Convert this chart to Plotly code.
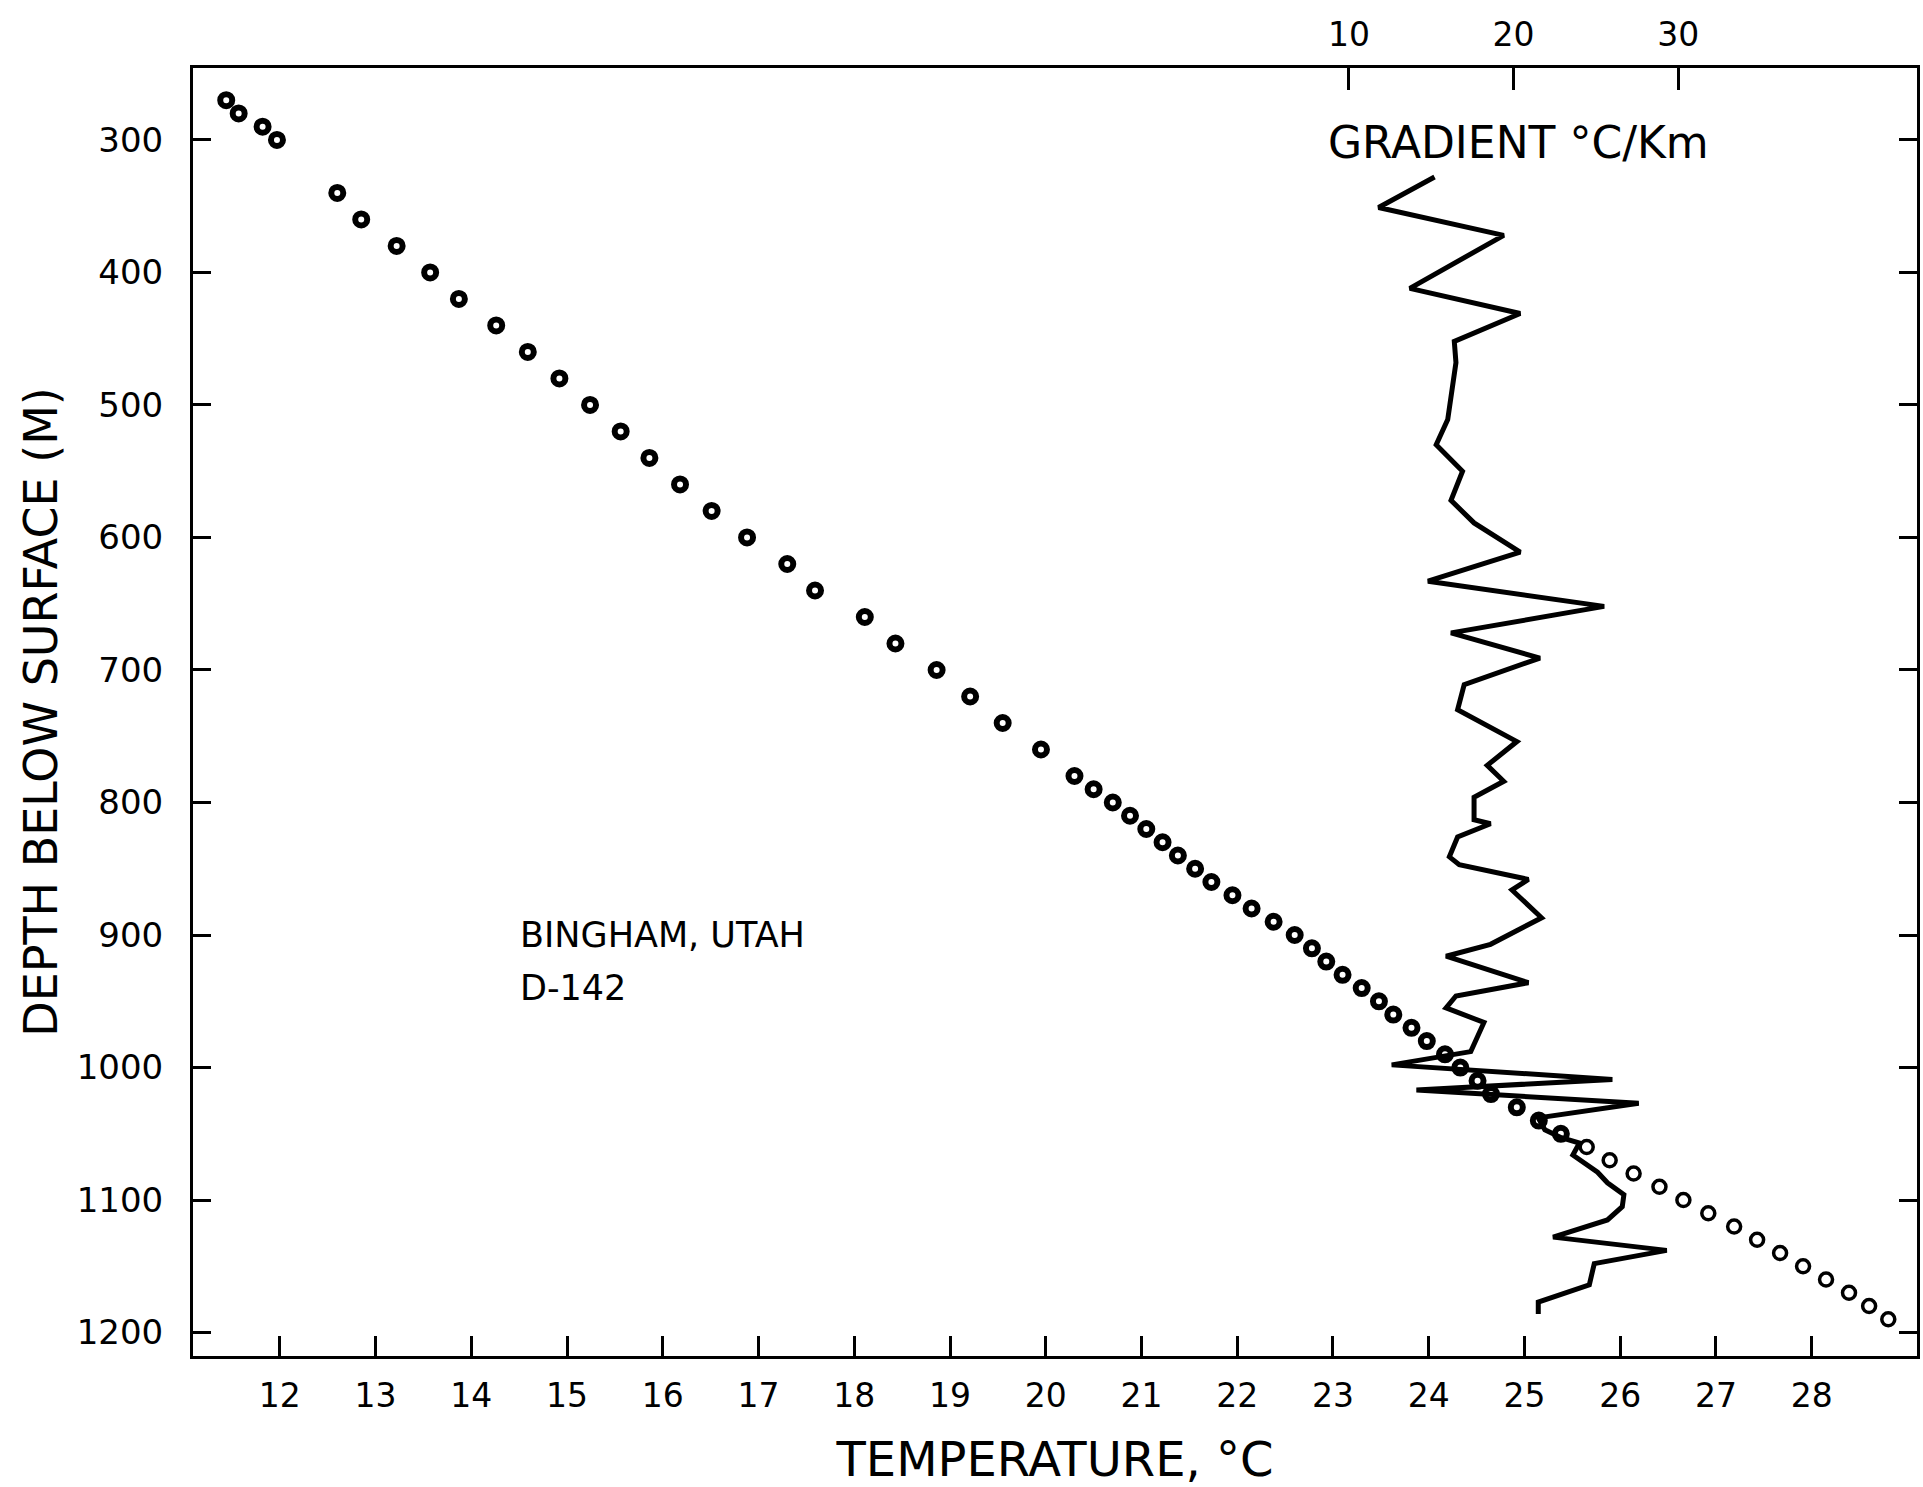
import plotly.graph_objects as go

# ---- Temperature log (depth in m, temperature in deg C) ----
temp_depth = [270, 280, 290, 300,
              340, 360, 380, 400, 420, 440, 460, 480, 500, 520, 540, 560,
              580, 600, 620, 640, 660, 680, 700, 720, 740, 760,
              780, 790, 800, 810, 820, 830, 840, 850, 860, 870,
              880, 890, 900, 910, 920, 930, 940, 950, 960, 970,
              980, 990, 1000, 1010, 1020, 1030, 1040, 1050, 1060, 1070,
              1080, 1090, 1100, 1110, 1120, 1130, 1140, 1150, 1160, 1170,
              1180, 1190]
temp_c = [11.44, 11.57, 11.82, 11.97,
          12.60, 12.85, 13.22, 13.57, 13.87, 14.26, 14.59, 14.92, 15.24, 15.56, 15.86, 16.18,
          16.51, 16.88, 17.30, 17.59, 18.11, 18.43, 18.86, 19.21, 19.55, 19.95,
          20.30, 20.50, 20.70, 20.88, 21.05, 21.22, 21.38, 21.56, 21.73, 21.95,
          22.15, 22.38, 22.60, 22.78, 22.93, 23.10, 23.30, 23.48, 23.63, 23.82,
          23.98, 24.17, 24.33, 24.51, 24.65, 24.92, 25.15, 25.38, 25.65, 25.89,
          26.14, 26.41, 26.66, 26.92, 27.19, 27.43, 27.67, 27.91, 28.15, 28.39,
          28.60, 28.80]

# ---- Gradient log (depth in m, gradient in deg C / km) ----
grad_depth = [328, 351, 372, 412, 431, 452, 468, 511, 530, 550, 572, 589, 611,
              633, 652, 672, 691, 711, 730, 754, 772, 784, 796, 813, 816, 826,
              841, 847, 858, 866, 887, 907, 916, 936, 946, 955, 966, 988, 998,
              1009, 1017, 1027, 1038, 1047, 1053, 1057, 1066, 1079, 1087, 1096,
              1105, 1115, 1128, 1138, 1148, 1164, 1177, 1186]
grad_val = [15.2, 11.8, 19.4, 13.7, 20.4, 16.4, 16.5, 16.0, 15.3, 16.9, 16.2, 17.6, 20.4,
            14.8, 25.5, 16.2, 21.6, 17.0, 16.6, 20.2, 18.4, 19.4, 17.6, 17.6, 18.6, 16.6,
            16.1, 16.7, 20.9, 19.9, 21.7, 18.6, 15.9, 20.9, 16.5, 15.9, 18.2, 17.4, 12.6,
            26.0, 14.1, 27.6, 21.5, 21.9, 22.9, 24.0, 23.6, 25.1, 25.7, 26.7,
            26.6, 25.7, 22.4, 29.3, 24.9, 24.6, 21.5, 21.5]

temp_ticks = [12, 13, 14, 15, 16, 17, 18, 19, 20, 21, 22, 23, 24, 25, 26, 27, 28]
depth_ticks = [300, 400, 500, 600, 700, 800, 900, 1000, 1100, 1200]
grad_ticks = [10, 20, 30]

FONT = "DejaVu Sans"
W, H = 1923, 1487
L, R, T, B = 193, 3, 68, 131
PW, PH = W - L - R, H - T - B


def px_x(p):
    return (p - L) / PW


def px_y(p):
    return 1 - (p - T) / PH


fig = go.Figure()

fig.add_trace(go.Scatter(
    x=grad_val, y=grad_depth, xaxis="x2", yaxis="y", mode="lines",
    line=dict(color="black", width=5), hoverinfo="skip"))

upper = [i for i, d in enumerate(temp_depth) if d < 1055]
lower = [i for i, d in enumerate(temp_depth) if d >= 1055]

fig.add_trace(go.Scatter(
    x=[temp_c[i] for i in upper], y=[temp_depth[i] for i in upper], mode="markers",
    marker=dict(symbol="circle", size=12, color="white",
                line=dict(color="black", width=6))))
fig.add_trace(go.Scatter(
    x=[temp_c[i] for i in lower], y=[temp_depth[i] for i in lower], mode="markers",
    marker=dict(symbol="circle", size=13, color="white",
                line=dict(color="black", width=3.5))))

axis_common = dict(showgrid=False, zeroline=False, color="black",
                   tickcolor="black", tickwidth=3, ticks="inside")

fig.update_layout(
    width=W, height=H,
    margin=dict(l=L, r=R, t=T, b=B, pad=0),
    paper_bgcolor="white", plot_bgcolor="white",
    showlegend=False,
    font=dict(family=FONT, color="black"),
    xaxis=dict(axis_common, range=[11.093, 29.10], tickvals=temp_ticks,
               ticklen=20, showline=True, linecolor="black", linewidth=3,
               mirror=True, tickfont=dict(size=33, family=FONT),
               ticklabelstandoff=8,
               title=dict(text="TEMPERATURE, °C", font=dict(size=48, family=FONT),
                          standoff=29)),
    yaxis=dict(axis_common, range=[1217.7, 245.7], tickvals=depth_ticks,
               ticklen=18, showline=True, linecolor="black", linewidth=3,
               mirror="ticks", tickfont=dict(size=34, family=FONT),
               ticklabelstandoff=20,
               title=dict(text="DEPTH BELOW SURFACE (M)", font=dict(size=46, family=FONT),
                          standoff=5)),
    xaxis2=dict(axis_common, overlaying="x", side="top", anchor="y",
                range=[-60.2, 44.5], tickvals=grad_ticks, ticklen=22,
                showline=False, tickfont=dict(size=33, family=FONT),
                ticklabelstandoff=14),
    annotations=[
        dict(text="GRADIENT °C/Km", xref="paper", yref="paper",
             x=px_x(1521), y=px_y(143), xanchor="center", yanchor="middle",
             showarrow=False, font=dict(size=44, family=FONT, color="black")),
        dict(text="BINGHAM, UTAH", xref="paper", yref="paper",
             x=px_x(519), y=px_y(935), xanchor="left", yanchor="middle",
             showarrow=False, font=dict(size=35, family=FONT, color="black")),
        dict(text="D-142", xref="paper", yref="paper",
             x=px_x(519), y=px_y(988), xanchor="left", yanchor="middle",
             showarrow=False, font=dict(size=35, family=FONT, color="black")),
    ],
)

fig.write_html("out.html", config={"displayModeBar": False},
               post_script="document.body.style.margin='0';")
